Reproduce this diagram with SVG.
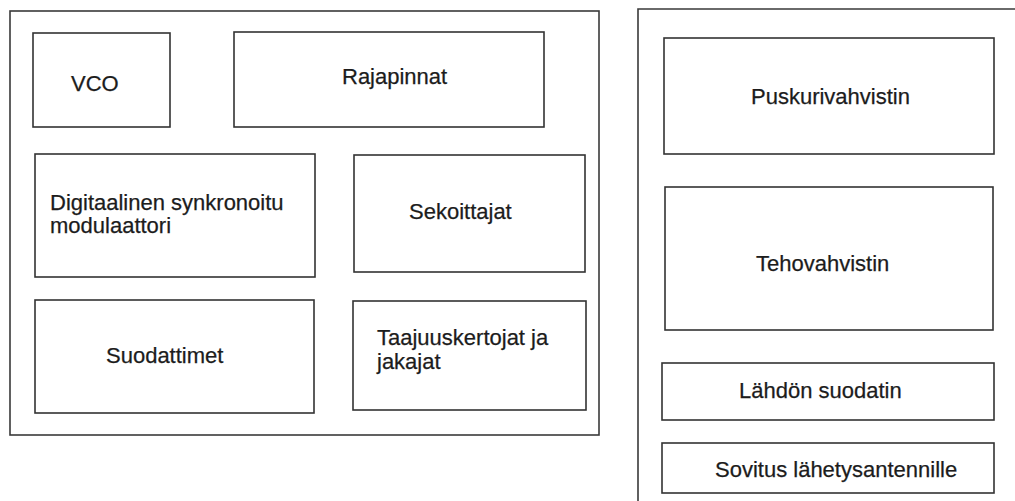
<svg xmlns="http://www.w3.org/2000/svg" width="1015" height="501" viewBox="0 0 1015 501">
  <style>
    .frame { fill: none; stroke: #3a3a3a; stroke-width: 1.6; }
    .box { fill: #ffffff; stroke: #333333; stroke-width: 1.6; }
    .lbl { font-family: "Liberation Sans", Arial, sans-serif; font-size: 22px; fill: #1c1c1c; stroke: #1c1c1c; stroke-width: 0.25; }
  </style>
  <rect width="1015" height="501" fill="#ffffff"/>

  <!-- transmitter frame (left) -->
  <g id="frame-left">
    <rect class="frame" x="10" y="11" width="589" height="424"/>
  </g>

  <g id="vco">
    <rect class="box" x="33" y="33" width="137" height="94"/>
    <text class="lbl" x="71" y="91">VCO</text>
  </g>
  <g id="rajapinnat">
    <rect class="box" x="234" y="32" width="310" height="95"/>
    <text class="lbl" x="342" y="84">Rajapinnat</text>
  </g>
  <g id="modulaattori">
    <rect class="box" x="35" y="154" width="280" height="123"/>
    <text class="lbl" x="50" y="210">Digitaalinen synkronoitu</text>
    <text class="lbl" x="50" y="233">modulaattori</text>
  </g>
  <g id="sekoittajat">
    <rect class="box" x="354" y="155" width="231" height="117"/>
    <text class="lbl" x="409" y="219">Sekoittajat</text>
  </g>
  <g id="suodattimet">
    <rect class="box" x="35" y="300" width="279" height="113"/>
    <text class="lbl" x="106" y="363">Suodattimet</text>
  </g>
  <g id="kertojat">
    <rect class="box" x="353" y="301" width="233" height="109"/>
    <text class="lbl" x="377" y="345">Taajuuskertojat ja</text>
    <text class="lbl" x="377" y="369">jakajat</text>
  </g>

  <!-- amplifier chain frame (right), runs off the page edge -->
  <g id="frame-right">
    <path class="frame" d="M638 501 V9 H1016"/>
  </g>

  <g id="puskurivahvistin">
    <rect class="box" x="664" y="38" width="330" height="116"/>
    <text class="lbl" x="751" y="104">Puskurivahvistin</text>
  </g>
  <g id="tehovahvistin">
    <rect class="box" x="665" y="187" width="328" height="143"/>
    <text class="lbl" x="756" y="271">Tehovahvistin</text>
  </g>
  <g id="lahdon-suodatin">
    <rect class="box" x="662" y="363" width="332" height="57"/>
    <text class="lbl" x="739" y="398">Lähdön suodatin</text>
  </g>
  <g id="sovitus">
    <rect class="box" x="662" y="443" width="332" height="50"/>
    <text class="lbl" x="715" y="477">Sovitus lähetysantennille</text>
  </g>

  <g id="connectors"/>
</svg>
